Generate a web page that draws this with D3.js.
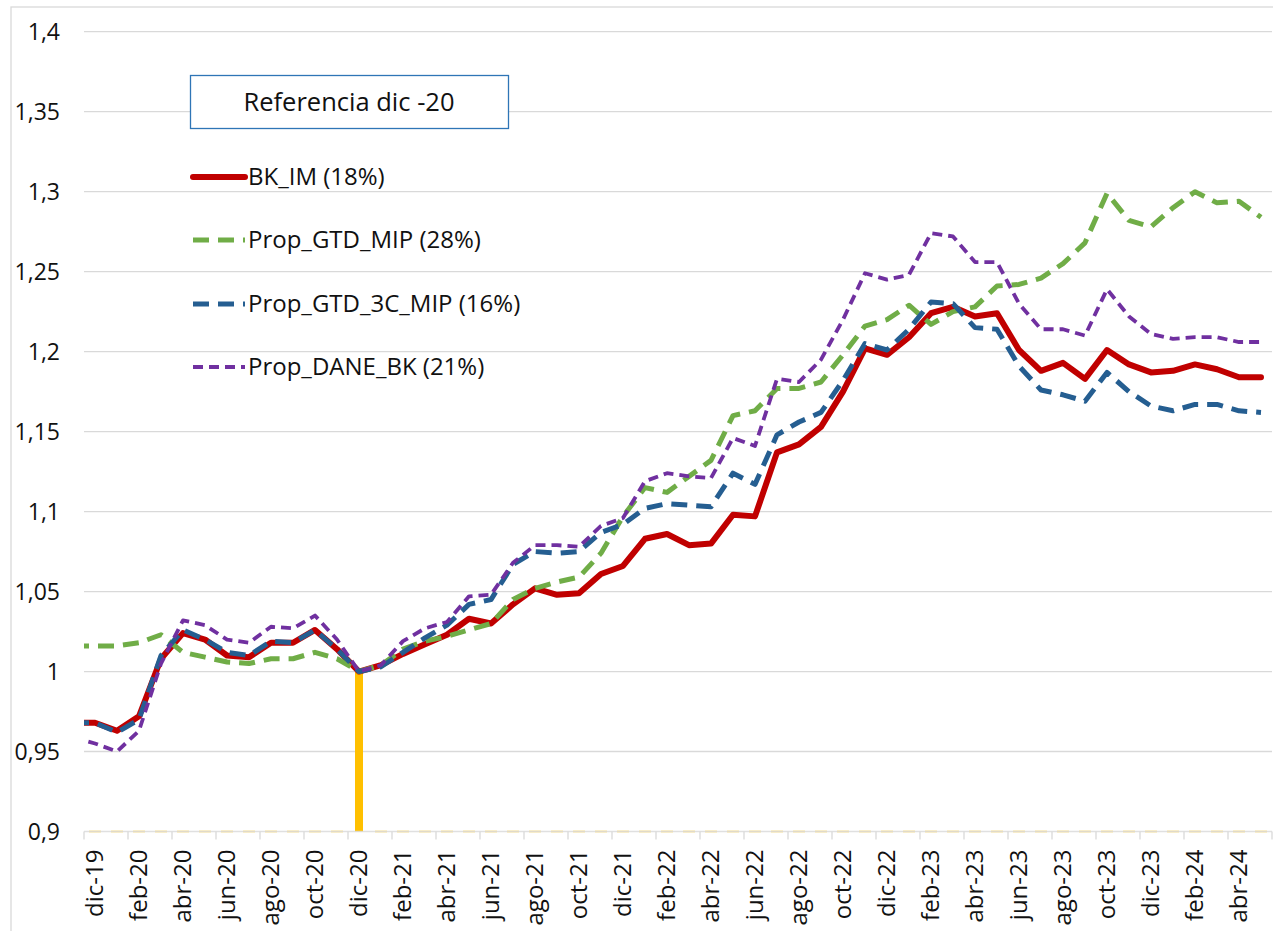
<html>
<head>
<meta charset="utf-8">
<script src="https://cdnjs.cloudflare.com/ajax/libs/d3/7.8.5/d3.min.js"></script>
<style>
  body { margin: 0; background: #fff; }
  text { font-family: "Open Sans", sans-serif; fill: #111; }
</style>
</head>
<body>
<svg id="chart" width="1273" height="931"></svg>
<script>
	// months (nov-19 is only there so the lines run into the left edge, it is clipped)
	var months = ["nov-19","dic-19","ene-20","feb-20","mar-20","abr-20","may-20","jun-20","jul-20","ago-20","sep-20","oct-20","nov-20",
		"dic-20","ene-21","feb-21","mar-21","abr-21","may-21","jun-21","jul-21","ago-21","sep-21","oct-21","nov-21",
		"dic-21","ene-22","feb-22","mar-22","abr-22","may-22","jun-22","jul-22","ago-22","sep-22","oct-22","nov-22",
		"dic-22","ene-23","feb-23","mar-23","abr-23","may-23","jun-23","jul-23","ago-23","sep-23","oct-23","nov-23",
		"dic-23","ene-24","feb-24","mar-24","abr-24","may-24"]

	var bkIm = [0.968,
		0.968,0.963,0.972,1.008,1.024,1.020,1.010,1.009,1.018,1.018,1.026,1.014,
		1.000,1.004,1.011,1.017,1.023,1.033,1.030,1.042,1.052,1.048,1.049,1.061,
		1.066,1.083,1.086,1.079,1.080,1.098,1.097,1.137,1.142,1.153,1.175,1.202,
		1.198,1.209,1.224,1.228,1.222,1.224,1.201,1.188,1.193,1.183,1.201,1.192,
		1.187,1.188,1.192,1.189,1.184,1.184]

	var gtdMip = [1.016,
		1.016,1.016,1.018,1.023,1.012,1.009,1.006,1.005,1.008,1.008,1.012,1.008,
		1.000,1.004,1.014,1.019,1.022,1.026,1.030,1.045,1.052,1.056,1.059,1.074,
		1.097,1.115,1.112,1.122,1.132,1.160,1.163,1.177,1.177,1.181,1.198,1.216,
		1.220,1.229,1.217,1.225,1.228,1.241,1.242,1.246,1.255,1.268,1.299,1.282,
		1.278,1.290,1.300,1.293,1.294,1.284]

	var gtd3cMip = [0.968,
		0.968,0.962,0.970,1.010,1.026,1.020,1.012,1.010,1.019,1.018,1.026,1.014,
		1.000,1.003,1.012,1.021,1.029,1.042,1.045,1.067,1.075,1.074,1.075,1.087,
		1.092,1.102,1.105,1.104,1.103,1.124,1.117,1.148,1.156,1.162,1.182,1.205,
		1.201,1.214,1.231,1.230,1.215,1.214,1.191,1.176,1.173,1.169,1.187,1.175,
		1.166,1.163,1.167,1.167,1.163,1.162]

	var daneBk = [0.959,
		0.955,0.950,0.963,1.005,1.032,1.029,1.020,1.018,1.028,1.027,1.035,1.020,
		1.000,1.004,1.019,1.027,1.031,1.047,1.048,1.068,1.079,1.079,1.078,1.091,
		1.096,1.119,1.124,1.122,1.121,1.146,1.141,1.183,1.181,1.195,1.220,1.249,
		1.245,1.248,1.274,1.272,1.256,1.256,1.230,1.214,1.214,1.210,1.239,1.222,
		1.211,1.208,1.209,1.209,1.206,1.206]

	var seriesNames = ["BK_IM (18%)", "Prop_GTD_MIP (28%)", "Prop_GTD_3C_MIP (16%)", "Prop_DANE_BK (21%)"]
	var yTicks = [0.9, 0.95, 1, 1.05, 1.1, 1.15, 1.2, 1.25, 1.3, 1.35, 1.4]
	var refMonth = "dic-20"
	var refLabel = "Referencia dic -20"

	var plotLeft = 84, plotRight = 1272, plotTop = 31.7, plotBottom = 831.5
	var svg = d3.select("#chart")

	// outer chart border
	svg.append("rect").attr("x", 11).attr("y", 7).attr("width", 1400).attr("height", 1000)
		.attr("fill", "none").attr("stroke", "#d9d9d9").attr("stroke-width", 1.3)

	var x = d3.scaleBand().domain(months).range([plotLeft - 22, plotRight])
	var y = d3.scaleLinear().domain([0.9, 1.4]).range([plotBottom, plotTop])
	var cx = (m) => x(m) + x.bandwidth() / 2

	var loc = d3.formatLocale({decimal: ",", thousands: ".", grouping: [3], currency: ["", ""]})
	var fmt = loc.format("~g")

	// grid + y labels
	svg.append("g").selectAll("line").data(yTicks.slice(1)).enter().append("line")
		.attr("x1", plotLeft).attr("x2", plotRight)
		.attr("y1", d => y(d)).attr("y2", d => y(d))
		.attr("stroke", "#d9d9d9").attr("stroke-width", 1.3)

	svg.append("g").selectAll("text").data(yTicks).enter().append("text")
		.attr("x", 60).attr("y", d => y(d)).attr("dy", "0.35em")
		.attr("text-anchor", "end").style("font-size", "23px")
		.text(d => fmt(d))

	// reference column series (zero height everywhere except dic-20)
	var visible = months.slice(1)
	svg.append("g").selectAll("rect").data(visible).enter().append("rect")
		.attr("y", d => d === refMonth ? y(1) : y(0.9) - 1)
		.attr("height", d => d === refMonth ? y(0.9) - y(1) : 2)
		.attr("fill", "#ffc000")
		.attr("opacity", d => d === refMonth ? 1 : 0.45)
		.attr("width", d => d === refMonth ? 8 : 12)
		.attr("x", d => d === refMonth ? cx(d) - 4 : cx(d) - 6)

	// x axis line and ticks
	svg.append("line").attr("x1", plotLeft).attr("x2", plotRight).attr("y1", plotBottom).attr("y2", plotBottom)
		.attr("stroke", "#d9d9d9").attr("stroke-width", 1.3).attr("opacity", 0.8)
	var labelled = visible.filter((d, i) => i % 2 == 0)
	svg.append("g").selectAll("line").data(labelled.map(d => x(d)).concat([plotRight])).enter().append("line")
		.attr("x1", d => d).attr("x2", d => d).attr("y1", plotBottom).attr("y2", plotBottom + 8)
		.attr("stroke", "#d9d9d9").attr("stroke-width", 1.3)
	svg.append("g").selectAll("text").data(labelled).enter().append("text")
		.attr("transform", d => "translate(" + cx(d) + "," + (plotBottom + 18) + ") rotate(-90)")
		.attr("dy", "0.35em").attr("text-anchor", "end").style("font-size", "24px")
		.text(d => d)

	// lines
	svg.append("clipPath").attr("id", "plotclip").append("rect")
		.attr("x", plotLeft).attr("y", 0).attr("width", plotRight - plotLeft).attr("height", 931)

	var styles = [
		{ values: bkIm, color: "#c00000", width: 6, dash: null, cap: "round" },
		{ values: gtdMip, color: "#70ad47", width: 5, dash: "16 9", cap: "butt" },
		{ values: gtd3cMip, color: "#255e91", width: 5, dash: "16 9", cap: "butt" },
		{ values: daneBk, color: "#7030a0", width: 3.8, dash: "10 6", cap: "butt" }
	]
	var line = d3.line().x((d, i) => cx(months[i])).y(d => y(d))
	var lg = svg.append("g").attr("clip-path", "url(#plotclip)")
	styles.forEach(s => {
		lg.append("path").attr("d", line(s.values))
			.attr("fill", "none").attr("stroke", s.color).attr("stroke-width", s.width)
			.attr("stroke-linejoin", "round").attr("stroke-linecap", s.cap)
			.attr("stroke-dasharray", s.dash)
	})

	// reference box
	svg.append("rect").attr("x", 190.5).attr("y", 75.5).attr("width", 318).attr("height", 53)
		.attr("fill", "#fff").attr("stroke", "#2e75b6").attr("stroke-width", 1.3)
	svg.append("text").attr("x", 349).attr("y", 102).attr("dy", "0.35em")
		.attr("text-anchor", "middle").style("font-size", "25.5px").text(refLabel)

	// legend
	var legendY = [177, 240, 304, 367]
	styles.forEach((s, i) => {
		svg.append("line").attr("x1", 193).attr("x2", 245)
			.attr("y1", legendY[i]).attr("y2", legendY[i])
			.attr("stroke", s.color).attr("stroke-width", s.width)
			.attr("stroke-linecap", s.cap).attr("stroke-dasharray", s.dash)
		svg.append("text").attr("x", 248).attr("y", legendY[i]).attr("dy", "0.35em")
			.style("font-size", "24px").text(seriesNames[i])
	})
</script>
</body>
</html>
